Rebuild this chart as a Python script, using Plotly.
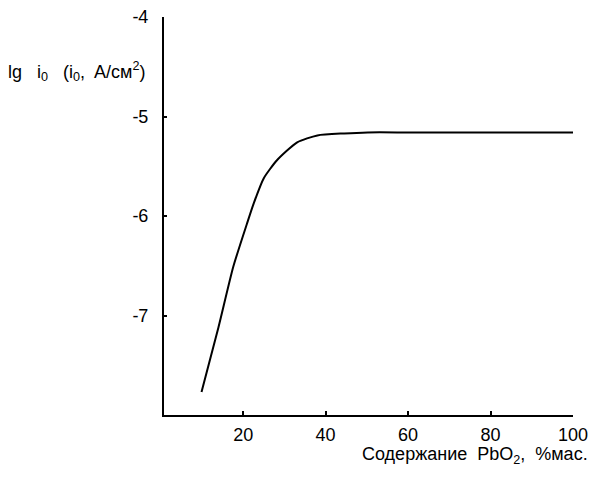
import plotly.graph_objects as go

# Data
pbo2_content = [9.9, 14.0, 17.6, 20.9, 22.5, 25.0, 28.2, 33.1, 38.0, 44.5, 50.2, 60.0, 75.0, 100.0]
lg_i0 = [-7.77, -7.12, -6.51, -6.08, -5.88, -5.62, -5.44, -5.26, -5.19, -5.17, -5.16, -5.16, -5.16, -5.16]

x_ticks = [20, 40, 60, 80, 100]
y_ticks = [-4, -5, -6, -7]

fig = go.Figure()
fig.add_trace(go.Scatter(
    x=pbo2_content, y=lg_i0, mode="lines",
    line=dict(color="black", width=2, shape="spline", smoothing=0.6),
    showlegend=False, hoverinfo="skip"))

fam = "Liberation Sans, Arial, sans-serif"
font = dict(family=fam, size=18, color="black")

fig.update_layout(
    width=598, height=485,
    margin=dict(l=156, r=33, t=9, b=78),
    paper_bgcolor="white", plot_bgcolor="white",
    font=font,
    xaxis=dict(range=[0.8, 100], tickvals=x_ticks, ticktext=[str(v) for v in x_ticks],
               showline=True, linecolor="black", linewidth=2, showgrid=False, zeroline=False,
               ticks="inside", ticklen=4, tickcolor="black", tickwidth=2, tickfont=font,
               ticklabelstandoff=2, ticklabeloverflow="allow", automargin=False, mirror=False),
    yaxis=dict(range=[-8, -4], tickvals=y_ticks, ticktext=[str(v) for v in y_ticks],
               showline=True, linecolor="black", linewidth=2, showgrid=False, zeroline=False,
               ticks="inside", ticklen=3, tickcolor="black", tickwidth=2, tickfont=font,
               ticklabelstandoff=10, ticklabeloverflow="allow", automargin=False),
    annotations=[
        dict(text="lg   i<sub>0</sub>   (i<sub>0</sub>,  A/см<sup>2</sup>)", xref="paper", yref="paper",
             x=-0.042, y=0.864, xanchor="right", yanchor="middle", showarrow=False,
             font=dict(family=fam, size=18, color="black")),
        dict(text="Содержание  PbO<sub>2</sub>,  %мас.", xref="paper", yref="paper",
             x=1.042, y=-0.103, xanchor="right", yanchor="middle", showarrow=False,
             font=dict(family=fam, size=18, color="black")),
    ],
)

fig.write_html("out.html")
